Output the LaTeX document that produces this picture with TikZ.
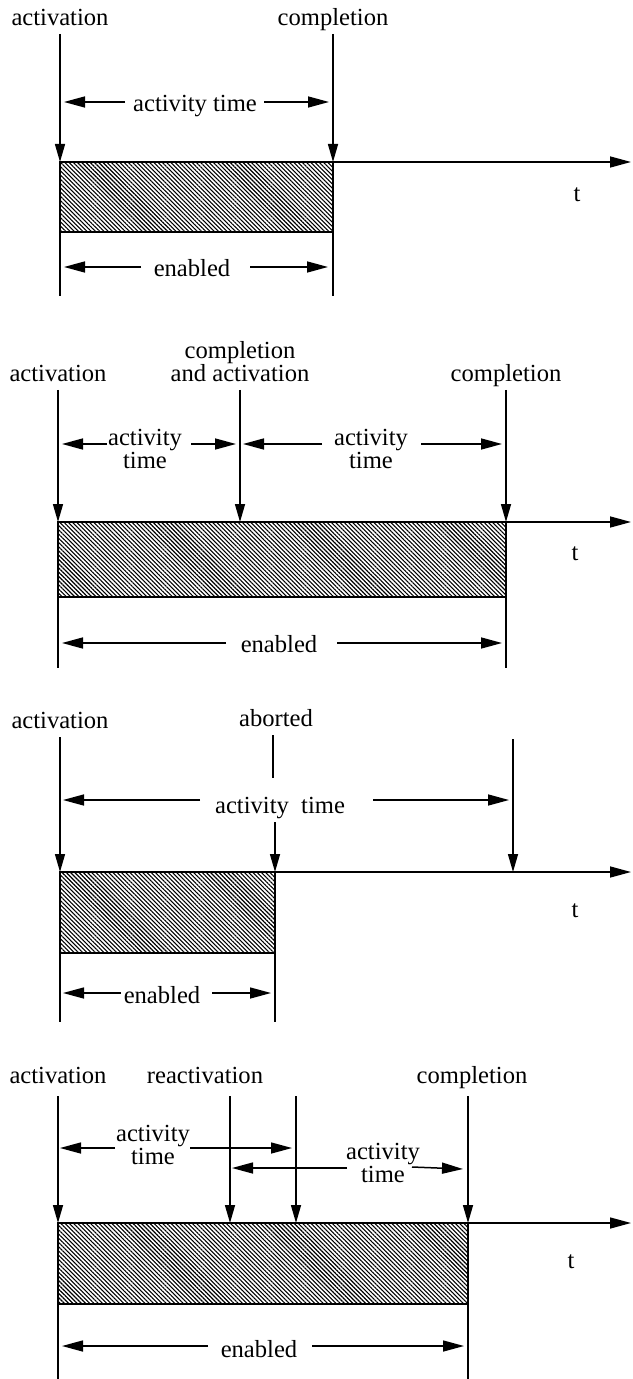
\documentclass[tikz,border=0pt]{standalone}
\usepackage{fontspec}
\setmainfont{Liberation Serif}
\usepackage{tikz}
\usetikzlibrary{
    positioning,
    arrows.meta,
    patterns.meta
}

\tikzset{
    lbl/.style={anchor=south, inner sep=0pt, inner ysep=4pt, text depth=0pt, align=center},
    txt/.style={anchor=base, inner sep=0pt, align=center},
    vdown/.style={-{Triangle[length=9pt,width=5pt]}},
    harr/.style={-{Triangle[length=10.5pt,width=5.5pt]}},
    hatch/.style={pattern={Lines[angle=-45,distance=1.5pt,line width=0.55pt]}},
    box/.style={line width=0.9pt}
}

\begin{document}
\begin{tikzpicture}[x=0.5pt, y=-0.5pt, line width=0.75pt,
    every node/.style={font=\fontsize{12.3}{11.5}\selectfont}]
            \useasboundingbox (0,0) rectangle (632,1379);

            % first case: activation and completion
            \coordinate (A1) at (60,162);
            \coordinate (B1) at (333,232);
            \fill[hatch] (A1) rectangle (B1);
            \draw[box] (A1) rectangle (B1);
            \node[lbl] (act1) at (60,34) {activation};
            \node[lbl] (com1) at (333,34) {completion};
            \draw[vdown] (act1) -- (A1);
            \draw[vdown] (com1) -- (A1 -| com1);
            \draw (B1 -| A1) -- (60,296);
            \draw (B1) -- (333,296);
            \draw[harr] (A1 -| B1) -- (631,162);
            \node[txt] (t1) at (577,202) {t};
            \node[txt] (at1) at (195,112) {activity time};
            \draw[harr] (125,102) -- (64,102);
            \draw[harr] (264,102) -- (329,102);
            \node[txt] (en1) at (192,277) {enabled};
            \draw[harr] (141,267) -- (64,267);
            \draw[harr] (250,267) -- (328,267);

            % second case: completion followed by a new activation
            \coordinate (A2) at (58,522);
            \coordinate (B2) at (506,597);
            \fill[hatch] (A2) rectangle (B2);
            \draw[box] (A2) rectangle (B2);
            \node[lbl] (act2) at (58,390) {activation};
            \node[lbl] (mid2) at (240,390) {completion\\and activation};
            \node[lbl] (com2) at (506,390) {completion};
            \draw[vdown] (act2) -- (A2);
            \draw[vdown] (mid2) -- (A2 -| mid2);
            \draw[vdown] (com2) -- (A2 -| com2);
            \draw (B2 -| A2) -- (58,668);
            \draw (B2) -- (506,668);
            \draw[harr] (A2 -| B2) -- (631,522);
            \node[txt] (t2) at (575,560) {t};
            \node[txt] (at2a) at (145,468) {activity\\time};
            \draw[harr] (107,444) -- (62,444);
            \draw[harr] (191,444) -- (236,444);
            \node[txt] (at2b) at (371,468) {activity\\time};
            \draw[harr] (322,444) -- (243,444);
            \draw[harr] (421,444) -- (502,444);
            \node[txt] (en2) at (279,652) {enabled};
            \draw[harr] (226,643) -- (62,643);
            \draw[harr] (337,643) -- (502,643);

            % third case: aborted
            \coordinate (A3) at (60,872);
            \coordinate (B3) at (275,953);
            \fill[hatch] (A3) rectangle (B3);
            \draw[box] (A3) rectangle (B3);
            \node[lbl] (act3) at (60,737) {activation};
            \node[lbl] (abo3) at (276,735) {aborted};
            \draw[vdown] (act3) -- (A3);
            \draw (273,735) -- (273,778);
            \draw[vdown] (275,822) -- (A3 -| B3);
            \draw[vdown] (513,739) -- (513,872);
            \draw (B3 -| A3) -- (60,1022);
            \draw (B3) -- (275,1022);
            \draw[harr] (A3 -| B3) -- (631,872);
            \node[txt] (t3) at (575,917) {t};
            \node[txt] (at3) at (280,813) {activity~~time};
            \draw[harr] (200,800) -- (63,800);
            \draw[harr] (373,800) -- (509,800);
            \node[txt] (en3) at (162,1003) {enabled};
            \draw[harr] (121,993) -- (63,993);
            \draw[harr] (212,993) -- (271,993);

            % fourth case: reactivation
            \coordinate (A4) at (58,1223);
            \coordinate (B4) at (468,1304);
            \fill[hatch] (A4) rectangle (B4);
            \draw[box] (A4) rectangle (B4);
            \node[lbl] (act4) at (58,1092) {activation};
            \node[lbl] (rea4) at (205,1092) {reactivation};
            \node[lbl] (com4) at (472,1092) {completion};
            \draw[vdown] (58,1096) -- (A4);
            \draw[vdown] (230,1096) -- (230,1223);
            \draw[vdown] (296,1096) -- (296,1223);
            \draw[vdown] (468,1096) -- (A4 -| B4);
            \draw (B4 -| A4) -- (58,1379);
            \draw (B4) -- (468,1379);
            \draw[harr] (A4 -| B4) -- (631,1223);
            \node[txt] (t4) at (571,1268) {t};
            \node[txt] (at4a) at (153,1164) {activity\\time};
            \draw[harr] (115,1148) -- (60,1148);
            \draw[harr] (190,1148) -- (292,1148);
            \node[txt] (at4b) at (383,1182) {activity\\time};
            \draw[harr] (347,1168) -- (232,1168);
            \draw[harr] (412,1167) -- (463,1169);
            \node[txt] (en4) at (259,1357) {enabled};
            \draw[harr] (208,1346) -- (62,1346);
            \draw[harr] (312,1346) -- (464,1346);
        \end{tikzpicture}
\end{document}
